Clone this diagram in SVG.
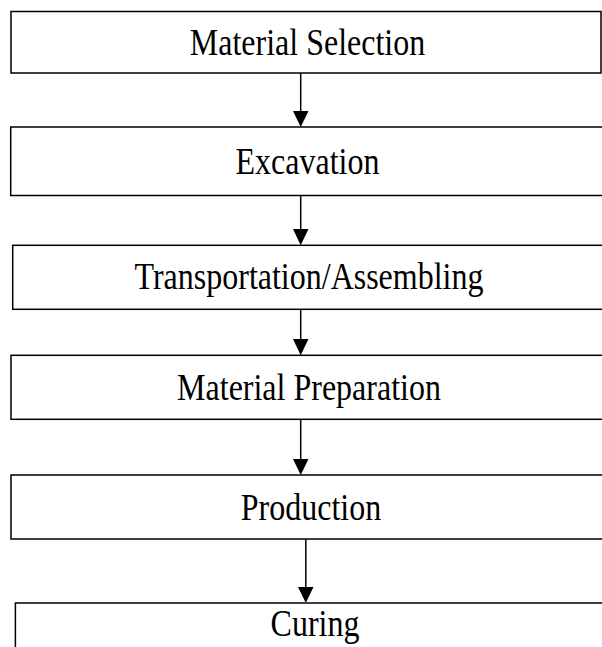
<svg xmlns="http://www.w3.org/2000/svg" width="602" height="647" viewBox="0 0 602 647">
  <style>
    .box { fill: #ffffff; stroke: #000000; stroke-width: 1.5; }
    .label { font-family: "Liberation Serif", "Times New Roman", serif; font-size: 32px; fill: #000000; text-anchor: middle; }
    .edge { stroke: #000000; stroke-width: 1.5; fill: none; }
    .head { fill: #000000; stroke: none; }
  </style>
  <rect width="602" height="647" fill="#ffffff"/>

  <!-- step boxes; labels are set in a slightly tall serif face -->
  <g id="material-selection">
    <rect class="box" x="11" y="11.5" width="590" height="61.5"/>
    <text class="label" transform="translate(307.5,55) scale(1,1.18)">Material Selection</text>
  </g>

  <g id="excavation">
    <rect class="box" x="10.7" y="127" width="600" height="68.5"/>
    <text class="label" transform="translate(307.5,173.5) scale(1,1.18)">Excavation</text>
  </g>

  <g id="transportation-assembling">
    <rect class="box" x="12.7" y="245.3" width="600" height="64"/>
    <text class="label" transform="translate(309,289) scale(1,1.18)">Transportation/Assembling</text>
  </g>

  <g id="material-preparation">
    <rect class="box" x="11" y="355.3" width="600" height="64"/>
    <text class="label" transform="translate(309,399.5) scale(1,1.18)">Material Preparation</text>
  </g>

  <g id="production">
    <rect class="box" x="11" y="475" width="600" height="64"/>
    <text class="label" transform="translate(311,519.5) scale(1,1.18)">Production</text>
  </g>

  <g id="curing">
    <rect class="box" x="15.4" y="603" width="600" height="60"/>
    <text class="label" transform="translate(315,636) scale(1,1.18)">Curing</text>
  </g>

  <!-- downward arrows between consecutive steps -->
  <g id="connectors">
    <line class="edge" x1="300.7" y1="73" x2="300.7" y2="112"/>
    <polygon class="head" points="293,111 308.5,111 300.7,127"/>

    <line class="edge" x1="300.7" y1="195.5" x2="300.7" y2="230"/>
    <polygon class="head" points="293,229 308.5,229 300.7,245.3"/>

    <line class="edge" x1="300.7" y1="309.3" x2="300.7" y2="340"/>
    <polygon class="head" points="293,339 308.5,339 300.7,355.3"/>

    <line class="edge" x1="300.7" y1="419.3" x2="300.7" y2="460"/>
    <polygon class="head" points="293,459 308.5,459 300.7,475"/>

    <line class="edge" x1="305.8" y1="539" x2="305.8" y2="588"/>
    <polygon class="head" points="298,587 313.5,587 305.8,603"/>
  </g>
</svg>
